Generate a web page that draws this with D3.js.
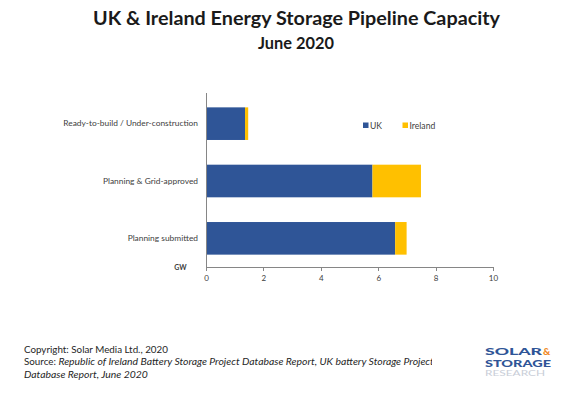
<html>
<head>
<style>
  body { margin: 0; background: #fff; }
  svg text { font-family: Lato, "Open Sans", sans-serif; }
  .axis path, .axis line { fill: none; stroke: #868686; shape-rendering: crispEdges; }
  .axis text { fill: #404040; }
</style>
</head>
<script src="https://d3js.org/d3.v7.min.js"></script>
<body>
<div id="chart"></div>
<script>

var categories = ["Ready-to-build / Under-construction", "Planning & Grid-approved", "Planning submitted"];
var ukValues = [1.36, 5.80, 6.59];
var irelandValues = [0.11, 1.69, 0.40];
var seriesNames = ["UK", "Ireland"];
var xTicks = [0, 2, 4, 6, 8, 10];

var color = ["#2F5597", "#FFC000"];

var width = 578, height = 396;

var svg = d3.select("#chart").append("svg")
    .attr("width", width)
    .attr("height", height);

svg.append("rect").attr("width", width).attr("height", height).attr("fill", "#fff");

// titles
svg.append("text")
    .attr("x", 296.5).attr("y", 25)
    .attr("text-anchor", "middle")
    .attr("textLength", 407).attr("lengthAdjust", "spacingAndGlyphs")
    .style("font-size", "19px").style("font-weight", "bold").style("fill", "#1a1a1a")
    .text("UK & Ireland Energy Storage Pipeline Capacity");

svg.append("text")
    .attr("x", 296).attr("y", 49)
    .attr("text-anchor", "middle")
    .attr("textLength", 76).attr("lengthAdjust", "spacingAndGlyphs")
    .style("font-size", "17px").style("font-weight", "bold").style("fill", "#1a1a1a")
    .text("June 2020");

// data table for stacking
var table = categories.map(function(c, i) {
  return {category: c, UK: ukValues[i], Ireland: irelandValues[i]};
});
var stacked = d3.stack().keys(seriesNames)(table);

var x = d3.scaleLinear().domain([0, 10]).range([206, 493]);
var y = d3.scaleBand().domain(categories).range([95, 267])
    .paddingInner(0.431).paddingOuter(0.2155);

// bars
svg.selectAll(".series")
    .data(stacked)
    .enter()
    .append("g")
      .attr("class", "series")
      .style("fill", function(d, i) { return color[i]; })
    .selectAll("rect")
    .data(function(d) { return d; })
    .enter()
    .append("rect")
      .attr("x", function(d) { return x(d[0]); })
      .attr("y", function(d) { return y(d.data.category); })
      .attr("width", function(d) { return x(d[1]) - x(d[0]); })
      .attr("height", y.bandwidth());

// x axis
var xAxis = svg.append("g")
    .attr("class", "x axis")
    .attr("transform", "translate(0,267)")
    .call(d3.axisBottom(x).tickValues(xTicks).tickSize(4).tickSizeOuter(0).tickPadding(4));
xAxis.selectAll("text").style("font-size", "8px");

// y axis
var yAxis = svg.append("g")
    .attr("class", "y axis")
    .attr("transform", "translate(206,0)")
    .call(d3.axisLeft(y).tickSize(0).tickSizeOuter(0).tickPadding(8));
yAxis.select(".domain").attr("d", "M0,93V267");
yAxis.selectAll("text").style("font-size", "8.4px");

// unit label
svg.append("text")
    .attr("x", 180.5).attr("y", 269.5)
    .attr("text-anchor", "middle")
    .style("font-size", "7px").style("font-weight", "bold").style("fill", "#404040")
    .text("GW");

// legend
var legend = svg.selectAll(".legend")
    .data(seriesNames)
    .enter()
    .append("g")
      .attr("class", "legend")
      .attr("transform", function(d, i) { return "translate(" + [363, 402.5][i] + ",0)"; });

legend.append("rect")
    .attr("y", 122.5)
    .attr("width", 5.5).attr("height", 5.5)
    .style("fill", function(d, i) { return color[i]; });

legend.append("text")
    .attr("x", 7).attr("y", 128.5)
    .style("font-size", "8.6px").style("fill", "#404040")
    .text(function(d) { return d; });

// footer
svg.append("defs").append("clipPath").attr("id", "foot-clip")
  .append("rect").attr("x", 0).attr("y", 330).attr("width", 432).attr("height", 60);

var foot = svg.append("g").attr("clip-path", "url(#foot-clip)")
    .style("font-size", "9.8px").style("fill", "#262626");

foot.append("text").attr("x", 24).attr("y", 352.5).text("Copyright: Solar Media Ltd., 2020");

var src = foot.append("text").attr("x", 24).attr("y", 365);
src.append("tspan").text("Source: ");
src.append("tspan").style("font-style", "italic").style("font-size", "10.4px")
    .text("Republic of Ireland Battery Storage Project Database Report, UK battery Storage Project");

foot.append("text").attr("x", 24).attr("y", 377.5)
    .style("font-style", "italic").style("font-size", "10.4px")
    .text("Database Report, June 2020");

// logo
var logo = svg.append("g").style("font-weight", "900");
logo.append("text").attr("x", 485).attr("y", 355)
    .attr("textLength", 57).attr("lengthAdjust", "spacingAndGlyphs")
    .style("font-size", "10px").style("fill", "#2F5597")
    .text("SOLAR");
logo.append("text").attr("x", 543).attr("y", 355)
    .style("font-size", "10px").style("fill", "#F08A24")
    .text("&");
logo.append("text").attr("x", 485).attr("y", 366.5)
    .attr("textLength", 66).attr("lengthAdjust", "spacingAndGlyphs")
    .style("font-size", "10px").style("fill", "#2F5597")
    .text("STORAGE");
logo.append("text").attr("x", 485).attr("y", 376)
    .attr("textLength", 60).attr("lengthAdjust", "spacingAndGlyphs")
    .style("font-size", "7px").style("font-weight", "normal").style("fill", "#c9ced8")
    .text("RESEARCH");

</script>
</body>
</html>
